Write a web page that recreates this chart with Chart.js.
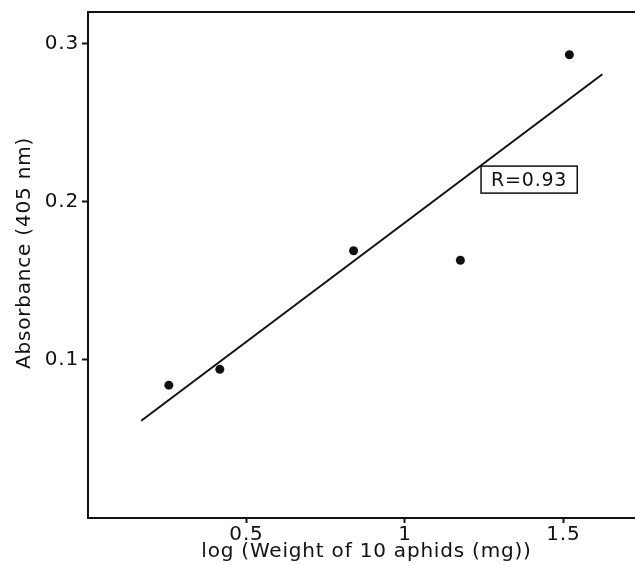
<!DOCTYPE html>
<html>
<head>
<meta charset="utf-8">
<script src="https://cdn.jsdelivr.net/npm/chart.js@4"></script>
<style>
html,body{margin:0;padding:0;background:#fff;}
#wrap{width:635px;height:565px;}
</style>
</head>
<body>
<div id="wrap"><canvas id="c" width="635" height="565"></canvas></div>
<script>
// Data
const logWeight = [0.255, 0.416, 0.838, 1.175, 1.519];
const absorbance = [0.084, 0.094, 0.169, 0.163, 0.293];
const fitX = [0.168, 1.623];
const fitY = [0.0615, 0.2806];
const xTicks = [0.5, 1, 1.5];
const yTicks = [0.1, 0.2, 0.3];
const xLabels = ['0.5', '1', '1.5'];
const yLabels = ['0.1', '0.2', '0.3'];
const xTitle = 'log (Weight of 10 aphids (mg))';
const yTitle = 'Absorbance (405 nm)';
const rLabel = 'R=0.93';
const rLabelPos = [1.392, 0.214];

const FONT = 'DejaVu Sans';
const SPACING = '0.8px';
const pts = logWeight.map((x, i) => ({x, y: absorbance[i]}));
const fit = fitX.map((x, i) => ({x, y: fitY[i]}));

const spacingPlugin = {
  id: 'spacing',
  beforeLayout(chart) { chart.ctx.letterSpacing = SPACING; },
  beforeDraw(chart) { chart.ctx.letterSpacing = SPACING; }
};

const labelPlugin = {
  id: 'rlabel',
  afterDatasetsDraw(chart) {
    const {ctx, scales, chartArea} = chart;
    const cx = scales.x.getPixelForValue(rLabelPos[0]);
    const cy = scales.y.getPixelForValue(rLabelPos[1]);
    ctx.save();
    ctx.font = '19px "' + FONT + '"';
    const w = ctx.measureText(rLabel).width + 20;
    const h = 27;
    ctx.fillStyle = '#fff';
    ctx.fillRect(cx - w / 2, cy - h / 2, w, h);
    ctx.strokeStyle = '#111';
    ctx.lineWidth = 1.5;
    ctx.strokeRect(cx - w / 2, cy - h / 2, w, h);
    ctx.fillStyle = '#111';
    ctx.textAlign = 'center';
    ctx.textBaseline = 'middle';
    ctx.fillText(rLabel, cx, cy + 1);
    // x-axis title
    ctx.font = '20px "' + FONT + '"';
    ctx.fillText(xTitle, (chartArea.left + chartArea.right) / 2 + 5, 552);
    // y-axis title
    ctx.translate(25, (chartArea.top + chartArea.bottom) / 2 - 12);
    ctx.rotate(-Math.PI / 2);
    ctx.fillText(yTitle, 0, 0);
    ctx.restore();
  }
};

function noPad(s) {
  s.paddingLeft = 0; s.paddingRight = 0; s.paddingTop = 0; s.paddingBottom = 0;
}

new Chart(document.getElementById('c'), {
  type: 'scatter',
  data: {
    datasets: [
      {data: fit, showLine: true, borderColor: '#111', borderWidth: 2, pointRadius: 0, fill: false},
      {data: pts, backgroundColor: '#111', borderColor: '#111', pointRadius: 4.5, borderWidth: 0}
    ]
  },
  options: {
    responsive: false,
    animation: false,
    layout: {padding: 0, autoPadding: false},
    plugins: {legend: {display: false}, tooltip: {enabled: false}},
    scales: {
      x: {
        type: 'linear', position: 'bottom', min: 0, max: 1.726,
        afterBuildTicks: s => { s.ticks = xTicks.map(v => ({value: v})); },
        afterFit: s => { s.height = 47; noPad(s); },
        grid: {drawOnChartArea: false, drawTicks: true, tickLength: 5, tickColor: '#111', tickWidth: 2},
        border: {display: true, color: '#111', width: 2},
        ticks: {color: '#111', font: {family: FONT, size: 20}, padding: 0,
          callback: (v, i) => xLabels[i]},
        title: {display: false}
      },
      x2: {
        type: 'linear', position: 'top', min: 0, max: 1.726,
        afterFit: s => { s.height = 12; noPad(s); },
        grid: {display: false},
        ticks: {display: false},
        border: {display: true, color: '#111', width: 2}
      },
      y: {
        type: 'linear', min: 0, max: 0.32,
        afterBuildTicks: s => { s.ticks = yTicks.map(v => ({value: v})); },
        afterFit: s => { s.width = 88; noPad(s); },
        grid: {drawOnChartArea: false, drawTicks: true, tickLength: 6, tickColor: '#111', tickWidth: 2},
        border: {display: true, color: '#111', width: 2},
        ticks: {color: '#111', font: {family: FONT, size: 20}, padding: 3,
          callback: (v, i) => yLabels[i]},
        title: {display: false}
      }
    }
  },
  plugins: [spacingPlugin, labelPlugin]
});
</script>
</body>
</html>
